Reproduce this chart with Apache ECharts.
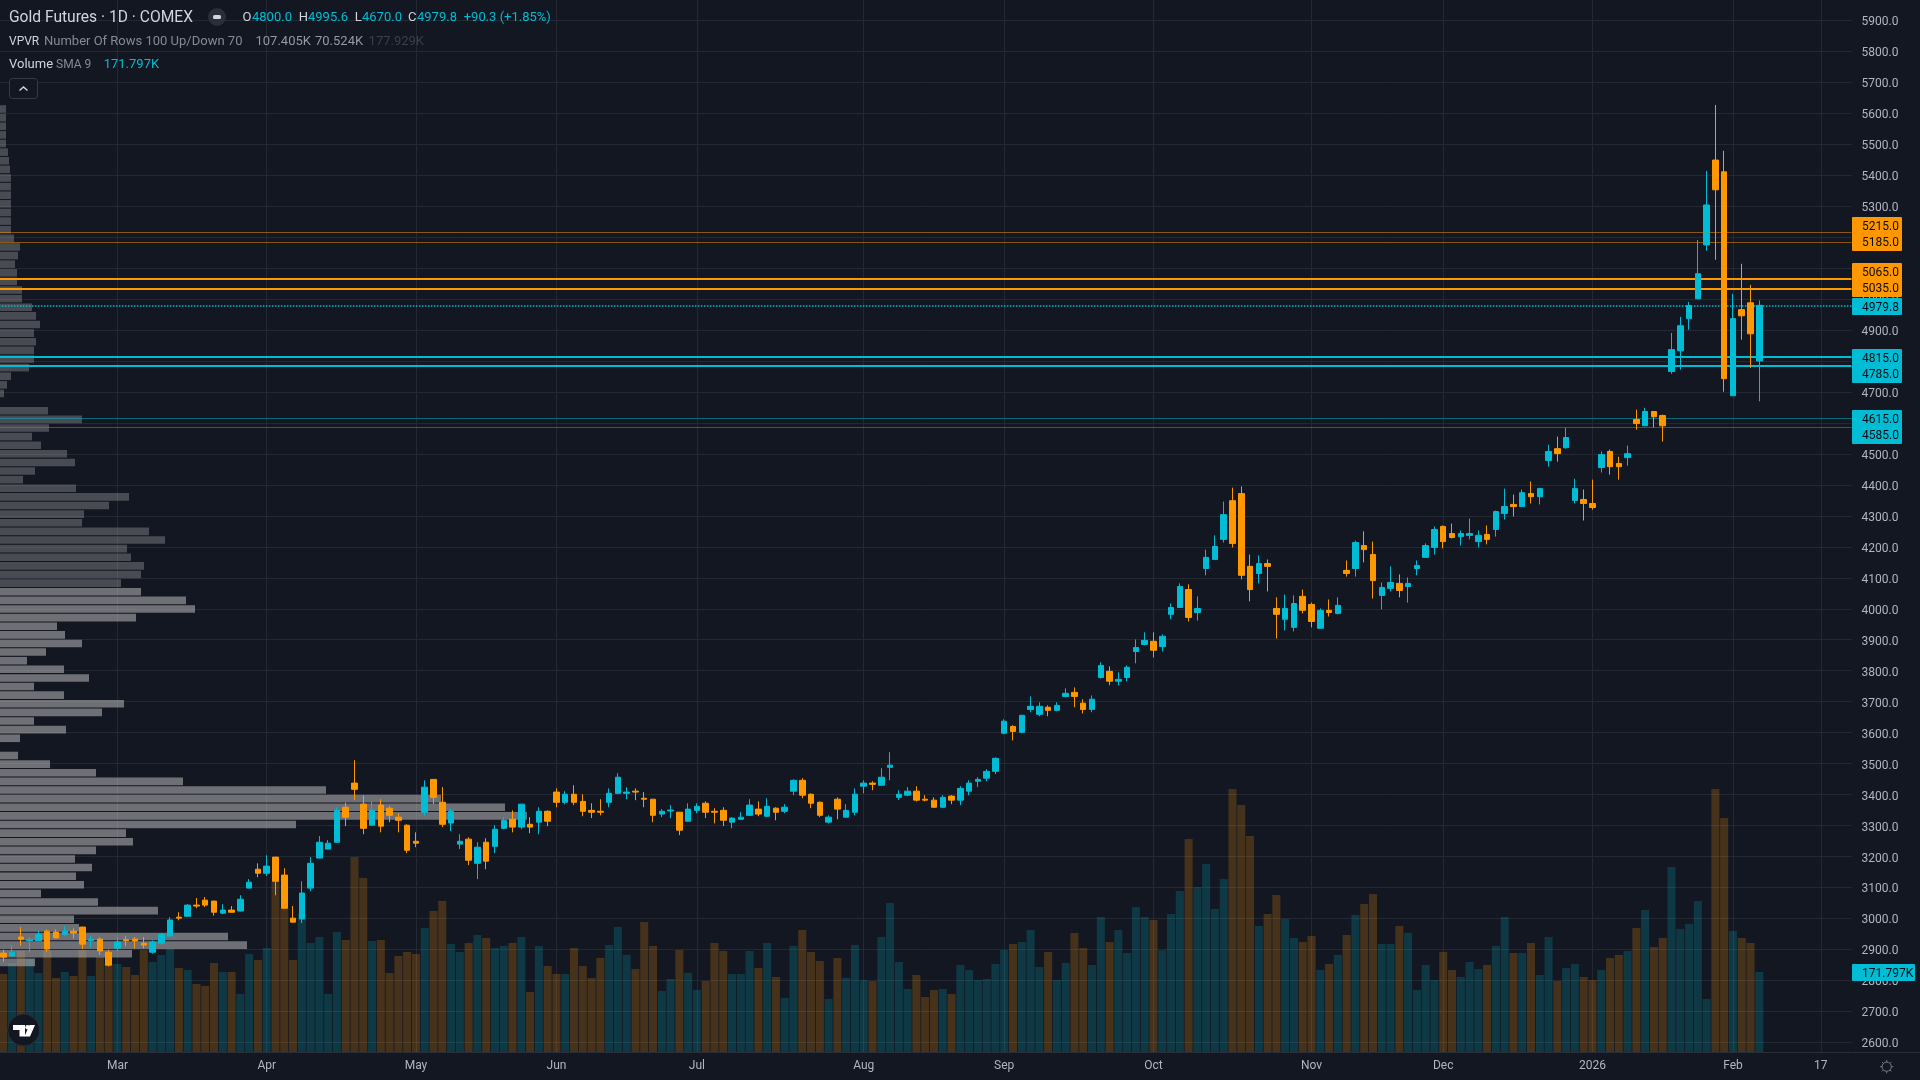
<!DOCTYPE html>
<html>
<head>
<meta charset="utf-8">
<style>html,body{margin:0;padding:0;background:#131722;}#c{width:1920px;height:1080px;}</style>
<script src="https://cdn.jsdelivr.net/npm/echarts@6/dist/echarts.min.js"></script>
</head>
<body>
<div id="c"></div>
<script>
const opens = [
2888,2879,2940,2928,2928,2959,2956,2949,2959,2972,
2928,2933,2891,2904,2931,2933,2920,2891,2920,2943,
3004,3007,3043,3059,3056,3017,3027,3024,3098,3159,
3146,3198,3140,3001,2998,3098,3195,3224,3246,3359,
3437,3369,3301,3366,3356,3327,3301,3249,3343,3449,
3375,3308,3240,3256,3178,3246,3233,3291,3320,3295,
3304,3311,3346,3408,3375,3401,3378,3349,3346,3375,
3404,3404,3411,3388,3385,3337,3347,3343,3314,3349,
3372,3346,3349,3311,3320,3333,3353,3330,3356,3346,
3411,3446,3401,3375,3311,3385,3327,3343,3427,3437,
3430,3488,3391,3398,3411,3385,3382,3359,3395,3382,
3411,3443,3453,3475,3598,3620,3601,3675,3659,3682,
3672,3717,3730,3695,3675,3778,3798,3766,3778,3862,
3885,3895,3878,3982,4004,4062,3988,4130,4159,4224,
4349,4372,4137,4114,4146,4001,3966,3940,4040,4014,
3937,3995,3985,4124,4130,4204,4175,4043,4066,4082,
4072,4130,4166,4198,4266,4243,4233,4237,4217,4240,
4256,4308,4337,4330,4372,4362,4479,4517,4520,4350,
4353,4340,4456,4508,4469,4488,4611,4591,4637,4624,
4766,4833,4937,5001,5175,5449,5411,4688,4966,4988,4800];
const closes = [
2875,2891,2933,2932,2948,2901,2937,2959,2953,2917,
2933,2895,2849,2924,2928,2927,2914,2924,2949,2995,
3001,3043,3040,3043,3020,3027,3020,3062,3117,3146,
3169,3120,3033,2988,3082,3178,3246,3243,3349,3327,
3417,3291,3349,3298,3333,3317,3220,3243,3424,3391,
3304,3346,3249,3188,3230,3185,3288,3317,3295,3369,
3295,3346,3314,3375,3401,3375,3346,3343,3343,3404,
3456,3408,3408,3385,3333,3346,3350,3285,3353,3362,
3343,3343,3317,3324,3327,3366,3337,3362,3343,3359,
3446,3398,3372,3333,3327,3353,3349,3401,3437,3433,
3456,3495,3401,3411,3382,3382,3359,3391,3382,3420,
3437,3449,3475,3517,3637,3604,3656,3685,3685,3672,
3688,3727,3717,3675,3708,3817,3766,3772,3811,3875,
3898,3866,3911,4004,4072,3972,4001,4166,4201,4304,
4211,4108,4062,4146,4137,3982,4001,4017,3995,3959,
3995,3988,4011,4114,4214,4191,4091,4069,4085,4059,
4082,4140,4204,4256,4217,4230,4243,4243,4237,4224,
4314,4330,4330,4375,4362,4388,4508,4501,4553,4388,
4340,4327,4498,4459,4459,4501,4598,4637,4620,4591,
4837,4914,4979,5082,5304,5353,4743,4937,4946,4888,4979.8];
const lows = [
2860,2877,2912,2890,2927,2892,2937,2944,2935,2901,
2905,2882,2845,2895,2910,2903,2903,2886,2914,2942,
2994,3006,3033,3037,3009,3014,3019,3023,3097,3133,
3137,3075,3032,2987,2985,3088,3194,3223,3245,3298,
3382,3272,3300,3278,3311,3278,3211,3230,3333,3369,
3295,3282,3224,3172,3127,3159,3211,3288,3278,3288,
3275,3272,3298,3359,3369,3366,3330,3324,3333,3359,
3401,3385,3382,3359,3311,3327,3324,3269,3313,3340,
3324,3307,3298,3291,3319,3332,3330,3327,3317,3340,
3398,3388,3356,3327,3307,3320,3326,3333,3404,3414,
3429,3446,3382,3395,3378,3378,3358,3356,3369,3366,
3398,3424,3443,3466,3595,3575,3598,3666,3653,3653,
3669,3714,3682,3662,3666,3775,3753,3753,3766,3824,
3882,3843,3862,3966,4003,3959,3962,4108,4158,4214,
4198,4095,4024,4082,4056,3904,3930,3927,3985,3940,
3936,3975,3982,4104,4104,4150,4033,3998,4056,4037,
4020,4108,4165,4175,4195,4227,4204,4224,4198,4208,
4233,4288,4298,4329,4340,4337,4459,4475,4517,4340,
4285,4320,4440,4433,4417,4462,4578,4590,4585,4540,
4759,4772,4901,5000,5156,5127,4701,4687,4869,4778,4670];
const highs = [
2899,2914,2972,2940,2961,2964,2964,2975,2968,2973,
2944,2939,2899,2942,2943,2939,2940,2929,2953,3004,
3020,3046,3066,3069,3057,3046,3040,3075,3127,3178,
3204,3199,3162,3040,3120,3198,3266,3253,3358,3374,
3511,3398,3378,3385,3362,3340,3304,3278,3446,3450,
3424,3355,3272,3262,3246,3259,3301,3327,3349,3370,
3327,3359,3349,3420,3411,3430,3401,3372,3385,3420,
3469,3424,3420,3408,3386,3353,3366,3344,3372,3372,
3378,3356,3359,3327,3343,3385,3378,3388,3359,3369,
3449,3453,3404,3378,3333,3391,3369,3420,3446,3443,
3485,3537,3414,3424,3427,3398,3391,3398,3398,3427,
3446,3456,3482,3520,3643,3624,3657,3717,3698,3688,
3698,3743,3746,3708,3720,3827,3814,3795,3817,3901,
3924,3924,3917,4017,4082,4079,4040,4191,4237,4346,
4391,4395,4175,4172,4159,4037,4046,4043,4062,4020,
4001,4030,4037,4156,4220,4250,4217,4085,4137,4111,
4101,4156,4211,4266,4269,4275,4253,4291,4253,4269,
4317,4388,4369,4385,4411,4391,4530,4556,4585,4420,
4385,4417,4508,4514,4491,4527,4643,4649,4638,4627,
4891,4943,4991,5191,5414,5627,5479,5017,5114,5046,4995.6];
const volumesK = [
167.5,190.4,216.9,200.4,169.6,219,158.9,171.8,163.2,219,
163.2,204,189,189,182.5,165.4,219,193.3,208.3,221.9,
180.4,176.1,146,141.7,191.1,171.8,171.8,124.6,210.4,197.6,
223.3,367,310,197.6,296.3,234,247,124.6,257.7,240.5,
418.7,373.6,238.4,240.5,169.6,206,214.7,210.4,266.3,302.8,
324.3,231.9,214.7,234,251.2,244.8,223.3,227.6,234,247,
128.8,227.6,184.7,167.5,167.5,223.3,184.7,158.9,201.9,229.8,
268.4,208.3,178.2,279.2,227.6,131,156.8,219,169.6,133.1,
152.5,234,216.9,167.5,167.5,216.9,180.4,234,161,116,
227.6,262,214.7,195.4,113.8,201.9,158.9,229.8,154.6,152.5,
247,320,193.3,135.3,165.4,118.1,133.1,135.3,124.6,186.8,
176.1,154.6,156.8,189,219,231.9,236.2,262,182.5,214.7,
154.6,191.1,255.5,223.3,186.8,289.9,236.2,262,212.6,311.4,
289.9,283.5,218.3,296.3,345.7,457.4,354.3,403.7,307.1,371.5,
564.8,530.4,463.8,270.6,296.3,337.1,285.6,244.8,236.2,249.1,
176.1,189,208.3,251.2,294.2,317.8,339.3,231.9,231.9,270.6,
255.5,133.1,186.8,154.6,214.7,176.1,161,193.3,178.2,186.8,
227.6,289.9,212.6,212.6,234,165.4,247,152.5,180.4,189,
161,154.6,176.1,201.9,208.3,216.9,266.3,304.9,225.5,244.8,
397.3,264.1,274.9,324.3,113.8,564.8,502.5,259.8,244.8,234,171.797];
// Volume-profile rows, top row first (relative row volume)
const vpvrRowVolume = [
6,6,6,6,6,8,9,10,11,11,
11,11,11,11,11,14,20,18,15,17,
17,22,22,32,36,40,34,36,34,34,
29,11,7,4,0,48,82,49,32,41,
67,75,35,23,76,129,109,84,82,149,
165,127,131,144,141,121,141,186,195,136,
57,65,82,46,27,64,89,34,64,124,
102,34,66,20,0,18,50,96,183,326,
441,505,527,296,126,133,96,75,92,76,
84,41,98,158,74,79,228,247,132,35];
const valueAreaFirstRow = 56;
const timeTickIndex = [13,30,47,63,79,98,114,131,149,164,181,197,207];
const timeTickLabels = ['Mar','Apr','May','Jun','Jul','Aug','Sep','Oct','Nov','Dec','2026','Feb','17'];
const levelsThin = [5215,5185,4615,4585];
const levelsThick = [5065,5035,4815,4785];
const lastClose = 4979.8;
const extraFutureBars = 10;

const UP='#00bcd4', DOWN='#ff9800', BG='#131722', GRID='#242833', TXT='#b2b5be', HEAD='#d1d4dc', MUTE='#868993';
const FONT='Roboto, sans-serif';

const barCount = opens.length + extraFutureBars;
const categories = [];
for (let i=0;i<barCount;i++) categories.push(String(i));
const tickLabelOf = {};
timeTickIndex.forEach((t,k)=>{tickLabelOf[t]=timeTickLabels[k];});
const isTick = (i)=> tickLabelOf[i]!==undefined;

const candleData = opens.map((o,i)=>[o,closes[i],lows[i],highs[i]]);
const volumeData = volumesK.map((v,i)=>({
  value:v,
  itemStyle:{color: closes[i]>=opens[i] ? 'rgba(0,188,212,0.2)' : 'rgba(255,152,0,0.22)'}
}));
const vpvrData = vpvrRowVolume.map((v,i)=>({
  value:v,
  itemStyle:{color: i>=valueAreaFirstRow ? 'rgba(185,185,185,0.55)' : 'rgba(196,196,195,0.3)'}
}));
const rowNames = vpvrRowVolume.map((v,i)=>String(i));

function lineData(){
  const d=[];
  levelsThin.forEach(v=>d.push({yAxis:v,lineStyle:{color:v>5000?'rgba(255,152,0,0.5)':'rgba(0,188,212,0.5)',width:1,type:'solid'}}));
  levelsThick.forEach(v=>d.push({yAxis:v,lineStyle:{color:v>5000?DOWN:UP,width:2,type:'solid'}}));
  d.push({yAxis:lastClose,lineStyle:{color:UP,width:1.5,type:[1.5,1.5]}});
  return d;
}

function T(x,y,text,fill,size){
  return {type:'text',x:x,y:y,z:50,silent:true,
    style:{text:text,fill:fill,font:(size||12)+'px '+FONT,textVerticalAlign:'middle',textAlign:'left'}};
}
function tag(y0,y1,color,labels,x1){
  const out=[{type:'rect',z:40,silent:true,shape:{x:1852,y:y0,width:(x1||1902)-1852,height:y1-y0,r:1},style:{fill:color}}];
  labels.forEach(l=>out.push(T(1862,l[1],l[0],'#0b0e16',12)));
  return out;
}
const gfx=[];
// header
gfx.push(T(9,18,'Gold Futures · 1D · COMEX',HEAD,15.6));
gfx.push({type:'circle',z:45,silent:true,shape:{cx:217,cy:17,r:9},style:{fill:'#2a2e39'}});
gfx.push({type:'rect',z:46,silent:true,shape:{x:213,y:15,width:8,height:4,r:1.5},style:{fill:HEAD}});
[[242.4,'O',HEAD],[252,'4800.0',UP],[298.8,'H',HEAD],[308,'4995.6',UP],[354.7,'L',HEAD],[362,'4670.0',UP],[408,'C',HEAD],[417,'4979.8',UP],[463.7,'+90.3 (+1.85%)',UP]]
  .forEach(a=>gfx.push(T(a[0],18,a[1],a[2],13)));
gfx.push(T(9,42,'VPVR',HEAD,12));
gfx.push(T(44,42,'Number Of Rows 100 Up/Down 70',MUTE,13));
gfx.push(T(255.5,42,'107.405K','#9598a1',13));
gfx.push(T(315,42,'70.524K','#9598a1',13));
gfx.push(T(368.6,42,'177.929K','#3c3f48',13));
gfx.push(T(9,65,'Volume',HEAD,13));
gfx.push(T(56,65,'SMA 9',MUTE,12));
gfx.push(T(103.7,65,'171.797K',UP,13));
gfx.push({type:'rect',z:45,silent:true,shape:{x:9.5,y:78.5,width:28,height:20,r:3},style:{fill:BG,stroke:'#363a45',lineWidth:1}});
gfx.push({type:'polyline',z:46,silent:true,shape:{points:[[19.5,90.5],[23.5,87],[27.5,90.5]]},style:{fill:'none',stroke:HEAD,lineWidth:1.5}});
// price tags
gfx.push(...tag(217,251,DOWN,[['5215.0',226.5],['5185.0',243.2]]));
gfx.push(...tag(263,297,DOWN,[['5065.0',272.5],['5035.0',289.2]]));
gfx.push(...tag(298,315,UP,[['4979.8',307.5]]));
gfx.push(...tag(349,383,UP,[['4815.0',358.5],['4785.0',375.2]]));
gfx.push(...tag(410,444,UP,[['4615.0',419.5],['4585.0',436.2]]));
gfx.push(...tag(964,981,UP,[['171.797K',973.5]],1915));
// divider under price axis
gfx.push({type:'line',z:30,silent:true,shape:{x1:1852.5,y1:1052.5,x2:1920,y2:1052.5},style:{stroke:'#2a2e39',lineWidth:1}});
// settings icon
const gx=1886.7,gy=1066.7;
gfx.push({type:'circle',z:45,silent:true,shape:{cx:gx,cy:gy,r:4.6},style:{fill:'none',stroke:'#787b86',lineWidth:1}});
for(let a=0;a<8;a++){const r=a*Math.PI/4;
  gfx.push({type:'line',z:45,silent:true,shape:{x1:gx+4.6*Math.cos(r),y1:gy+4.6*Math.sin(r),x2:gx+6.6*Math.cos(r),y2:gy+6.6*Math.sin(r)},style:{stroke:'#787b86',lineWidth:1}});}
// logo
gfx.push({type:'circle',z:45,silent:true,shape:{cx:23.7,cy:1030,r:16},style:{fill:BG,stroke:'#2a2e39',lineWidth:1}});
gfx.push({type:'polygon',z:46,silent:true,shape:{points:[[13,1025],[25,1025],[25,1036.5],[19.5,1036.5],[19.5,1030],[13,1030]]},style:{fill:'#fff'}});
gfx.push({type:'circle',z:46,silent:true,shape:{cx:27.5,cy:1027.2,r:2.2},style:{fill:'#fff'}});
gfx.push({type:'polygon',z:46,silent:true,shape:{points:[[29.5,1025],[35,1025],[30,1036.5],[24.5,1036.5]]},style:{fill:'#fff'}});

const chart=echarts.init(document.getElementById('c'),null,{renderer:'canvas'});
chart.setOption({
  animation:false,
  backgroundColor:BG,
  textStyle:{fontFamily:FONT},
  grid:[
    {left:-1.09,width:1852.58,top:20.4,height:1052.87,outerBoundsMode:'none'},
    {left:-1.09,width:1852.58,top:0,height:1052,outerBoundsMode:'none'},
    {left:0,width:1852,top:104.7,height:862,outerBoundsMode:'none'}
  ],
  xAxis:[
    {gridIndex:0,type:'category',data:categories,show:false},
    {gridIndex:1,type:'category',data:categories,
      axisLine:{show:true,lineStyle:{color:'#2a2e39',width:1}},axisTick:{show:false},
      axisLabel:{interval:(i)=>isTick(i),formatter:(v,i)=>tickLabelOf[i]||'',color:TXT,fontSize:12,fontFamily:FONT,margin:8,hideOverlap:false},
      splitLine:{show:true,interval:(i)=>isTick(i),alignWithLabel:true,lineStyle:{color:GRID,width:1}}},
    {gridIndex:2,type:'value',min:0,max:1852,show:false}
  ],
  yAxis:[
    {gridIndex:0,type:'value',position:'right',min:2500,max:5900,interval:100,
      axisLine:{show:false},axisTick:{show:false},
      axisLabel:{color:TXT,fontSize:12,fontFamily:FONT,margin:10,showMinLabel:false,showMaxLabel:true,
        rich:{p:{color:TXT,fontSize:12,fontFamily:FONT,padding:[4,0,0,0]}},
        formatter:(v)=>'{p|'+v.toFixed(1)+'}'},
      splitLine:{show:true,showMinLine:false,showMaxLine:true,lineStyle:{color:GRID,width:1}}},
    {gridIndex:1,type:'value',min:0,max:2259,show:false,splitLine:{show:false}},
    {gridIndex:2,type:'category',data:rowNames,inverse:true,show:false}
  ],
  series:[
    {name:'Volume',type:'bar',xAxisIndex:1,yAxisIndex:1,data:volumeData,barWidth:8,z:1,clip:false,silent:true},
    {name:'VPVR',type:'bar',xAxisIndex:2,yAxisIndex:2,data:vpvrData,barWidth:7.6,z:2,silent:true},
    {name:'Levels',type:'line',xAxisIndex:0,yAxisIndex:0,data:[],z:3,silent:true,
      markLine:{silent:true,symbol:'none',label:{show:false},z:3,data:lineData()}},
    {name:'Gold Futures',type:'candlestick',xAxisIndex:0,yAxisIndex:0,data:candleData,barWidth:6,z:4,clip:false,silent:true,
      itemStyle:{color:UP,color0:DOWN,borderColor:UP,borderColor0:DOWN,borderWidth:1}}
  ],
  graphic:gfx
});
</script>
</body>
</html>
